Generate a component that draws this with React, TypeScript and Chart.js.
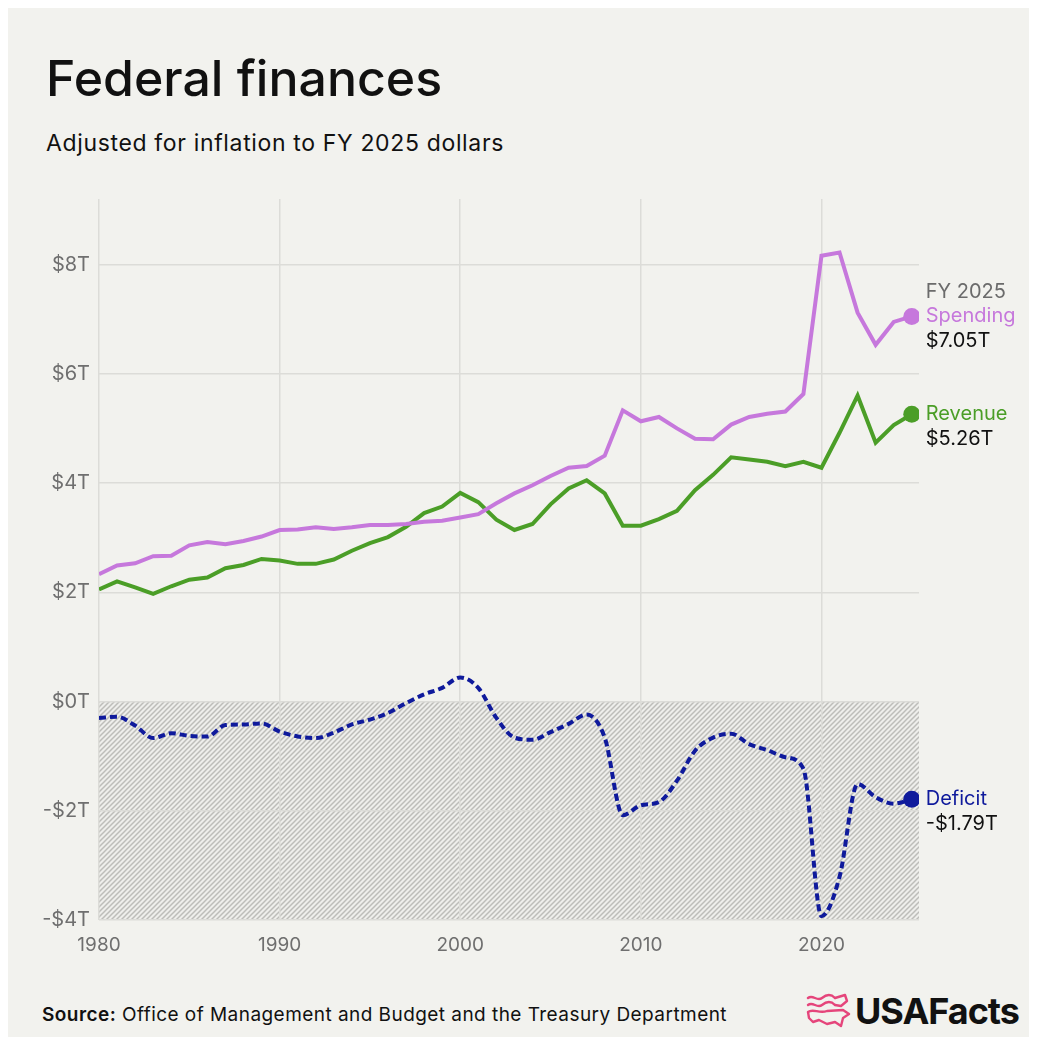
import React, { useEffect, useRef } from 'react';
import { Chart, registerables } from 'chart.js';

Chart.register(...registerables);

// Fiscal years
const years = [
  1980, 1981, 1982, 1983, 1984, 1985, 1986, 1987, 1988, 1989,
  1990, 1991, 1992, 1993, 1994, 1995, 1996, 1997, 1998, 1999,
  2000, 2001, 2002, 2003, 2004, 2005, 2006, 2007, 2008, 2009,
  2010, 2011, 2012, 2013, 2014, 2015, 2016, 2017, 2018, 2019,
  2020, 2021, 2022, 2023, 2024, 2025,
];

// Trillions of FY 2025 dollars
const spending = [
  2.33, 2.49, 2.53, 2.66, 2.67, 2.86, 2.92, 2.88, 2.94, 3.02,
  3.14, 3.15, 3.19, 3.16, 3.19, 3.23, 3.23, 3.25, 3.29, 3.31,
  3.37, 3.43, 3.63, 3.81, 3.96, 4.13, 4.28, 4.31, 4.5, 5.33,
  5.13, 5.21, 5.0, 4.81, 4.8, 5.07, 5.21, 5.27, 5.31, 5.63,
  8.16, 8.22, 7.12, 6.53, 6.95, 7.05,
];

const revenue = [
  2.05, 2.2, 2.09, 1.97, 2.11, 2.23, 2.27, 2.44, 2.5, 2.61,
  2.58, 2.52, 2.52, 2.6, 2.76, 2.9, 3.01, 3.2, 3.45, 3.57,
  3.82, 3.65, 3.33, 3.14, 3.25, 3.61, 3.9, 4.05, 3.81, 3.22,
  3.22, 3.34, 3.49, 3.87, 4.15, 4.47, 4.43, 4.39, 4.31, 4.39,
  4.28, 4.92, 5.6, 4.74, 5.06, 5.26,
];

const deficit = [
  -0.3, -0.28, -0.44, -0.67, -0.58, -0.63, -0.64, -0.43, -0.42, -0.4,
  -0.55, -0.64, -0.67, -0.57, -0.42, -0.33, -0.21, -0.03, 0.13, 0.25,
  0.44, 0.25, -0.3, -0.66, -0.7, -0.56, -0.41, -0.24, -0.66, -2.08,
  -1.9, -1.84, -1.45, -0.9, -0.66, -0.59, -0.78, -0.89, -1.02, -1.23,
  -3.93, -3.21, -1.51, -1.75, -1.87, -1.79,
];

const xTicks = [1980, 1990, 2000, 2010, 2020];
const yTicks = [-4, -2, 0, 2, 4, 6, 8];

const seriesNames = ['Spending', 'Revenue', 'Deficit'];
const seriesColors = ['#c678dc', '#4b9e27', '#0f1a9c'];

const FONT = 'Inter, "Noto Sans", sans-serif';

const fmtT = (v: number, digits = 0) =>
  (v < 0 ? '-$' : '$') + Math.abs(v).toFixed(digits) + 'T';

function makeHatch(ctx: CanvasRenderingContext2D) {
  const p = 5;
  const c = document.createElement('canvas');
  c.width = p;
  c.height = p;
  const g = c.getContext('2d')!;
  g.fillStyle = '#eeeeeb';
  g.fillRect(0, 0, p, p);
  g.strokeStyle = '#bdbdb9';
  g.lineWidth = 1.5;
  g.beginPath();
  g.moveTo(-1, p + 1);
  g.lineTo(p + 1, -1);
  g.moveTo(-1, 1);
  g.lineTo(1, -1);
  g.moveTo(p - 1, p + 1);
  g.lineTo(p + 1, p - 1);
  g.stroke();
  return ctx.createPattern(c, 'repeat')!;
}

// shaded area below $0T
const hatchPlugin = {
  id: 'hatch',
  beforeDraw(chart: any) {
    const { ctx, chartArea, scales } = chart;
    const top = scales.y.getPixelForValue(0);
    const bottom = scales.y.getPixelForValue(scales.y.min);
    ctx.save();
    ctx.fillStyle = makeHatch(ctx);
    ctx.fillRect(chartArea.left, top, chartArea.right - chartArea.left, bottom - top);
    ctx.restore();
  },
};

// labels next to the last point of each line
const endLabelPlugin = {
  id: 'endLabels',
  afterDatasetsDraw(chart: any) {
    const { ctx } = chart;
    ctx.save();
    ctx.textAlign = 'left';
    ctx.textBaseline = 'middle';
    ctx.font = `400 20px ${FONT}`;
    chart.data.datasets.forEach((ds: any, i: number) => {
      const meta = chart.getDatasetMeta(i);
      const pt = meta.data[meta.data.length - 1];
      const last = ds.data[ds.data.length - 1].y;
      const x = pt.x + 14;
      const y = pt.y;
      if (i === 0) {
        ctx.fillStyle = '#6b6b6b';
        ctx.fillText('FY ' + years[years.length - 1], x, y - 24);
      }
      ctx.fillStyle = seriesColors[i];
      ctx.fillText(seriesNames[i], x, y);
      ctx.fillStyle = '#111111';
      ctx.fillText(fmtT(last, 2), x, y + 25);
    });
    ctx.restore();
  },
};

const FederalChart: React.FC = () => {
  const canvasRef = useRef<HTMLCanvasElement | null>(null);

  useEffect(() => {
    if (!canvasRef.current) return;
    const lastIdx = years.length - 1;
    const radius = (c: any) => (c.dataIndex === lastIdx ? 8.5 : 0);
    const toPoints = (vals: number[]) => years.map((yr, i) => ({ x: yr, y: vals[i] }));

    const chart = new Chart(canvasRef.current, {
      type: 'line',
      data: {
        datasets: [
          {
            label: seriesNames[0],
            data: toPoints(spending),
            borderColor: seriesColors[0],
            backgroundColor: seriesColors[0],
            borderWidth: 4,
            pointRadius: radius,
            pointBorderWidth: 0,
            tension: 0,
          },
          {
            label: seriesNames[1],
            data: toPoints(revenue),
            borderColor: seriesColors[1],
            backgroundColor: seriesColors[1],
            borderWidth: 4,
            pointRadius: radius,
            pointBorderWidth: 0,
            tension: 0,
          },
          {
            label: seriesNames[2],
            data: toPoints(deficit),
            borderColor: seriesColors[2],
            backgroundColor: seriesColors[2],
            borderWidth: 4,
            borderDash: [7, 4],
            pointRadius: radius,
            pointBorderWidth: 0,
            cubicInterpolationMode: 'monotone',
          },
        ],
      },
      options: {
        animation: false,
        responsive: true,
        maintainAspectRatio: false,
        layout: { padding: { top: 17, right: 112, left: 0, bottom: 0 } },
        plugins: {
          legend: { display: false },
          tooltip: { enabled: false },
        },
        scales: {
          x: {
            type: 'linear',
            min: 1980,
            max: 2025.4,
            afterBuildTicks: (s: any) => {
              s.ticks = xTicks.map((v) => ({ value: v }));
            },
            afterFit: (s: any) => {
              s.height = 48;
            },
            border: { display: false },
            grid: { color: '#dcdcd8', lineWidth: 1.5, drawTicks: false },
            ticks: {
              padding: 14,
              color: '#6f6f6f',
              font: { family: FONT, size: 19 },
              callback: (v: any) => String(v),
            },
          },
          y: {
            min: -4,
            max: 9.2,
            afterBuildTicks: (s: any) => {
              s.ticks = yTicks.map((v) => ({ value: v }));
            },
            afterFit: (s: any) => {
              s.width = 91;
            },
            border: { display: false },
            grid: { color: '#dcdcd8', lineWidth: 1.5, drawTicks: false },
            ticks: {
              padding: 9,
              color: '#6f6f6f',
              font: { family: FONT, size: 20 },
              callback: (v: any) => fmtT(Number(v)),
            },
          },
        },
      },
      plugins: [hatchPlugin, endLabelPlugin],
    });

    return () => {
      chart.destroy();
    };
  }, []);

  return <canvas ref={canvasRef} />;
};

const Logo: React.FC = () => (
  <svg width="46" height="38" viewBox="0 0 46 38" style={{ display: 'block' }}>
    <g fill="none" stroke="#e5457b" strokeWidth="2.4" strokeLinecap="round" strokeLinejoin="round">
      <path d="M3 6 C8 2, 12 10, 17 6 S 26 2, 30 6" />
      <path d="M3 13 C8 9, 12 17, 17 13 S 26 9, 30 13" />
      <path d="M30 6 L40 3 L42 9 L36 14 L30 13" />
      <path d="M3 20 C8 16, 14 22, 22 19 L38 18 L44 22 L38 26 L36 34 L30 30 L22 32 L14 28 L8 30 L4 26 Z" />
    </g>
  </svg>
);

const App: React.FC = () => {
  return (
    <div
      style={{
        position: 'relative',
        width: 1023,
        height: 1029,
        background: '#f2f2ee',
        fontFamily: FONT,
        color: '#111',
      }}
    >
      <div
        style={{
          position: 'absolute',
          left: 38,
          top: 43,
          fontSize: 50,
          fontWeight: 500,
          letterSpacing: 0,
          lineHeight: '54px',
        }}
      >
        Federal finances
      </div>
      <div
        style={{
          position: 'absolute',
          left: 38,
          top: 120,
          fontSize: 23,
          letterSpacing: 0.65,
          lineHeight: '30px',
        }}
      >
        Adjusted for inflation to FY 2025 dollars
      </div>
      <div style={{ position: 'absolute', left: 0, top: 170, width: 1023, height: 790 }}>
        <FederalChart />
      </div>
      <div
        style={{
          position: 'absolute',
          left: 34,
          top: 994,
          fontSize: 19,
          letterSpacing: 0.45,
          lineHeight: '26px',
        }}
      >
        <span style={{ fontWeight: 600 }}>Source:</span> Office of Management and Budget and the
        Treasury Department
      </div>
      <div
        style={{
          position: 'absolute',
          left: 797,
          top: 983,
          display: 'flex',
          alignItems: 'center',
          gap: 4,
        }}
      >
        <Logo />
        <span style={{ fontSize: 36, fontWeight: 700, letterSpacing: -1, lineHeight: '40px' }}>
          USAFacts
        </span>
      </div>
    </div>
  );
};

export default App;
